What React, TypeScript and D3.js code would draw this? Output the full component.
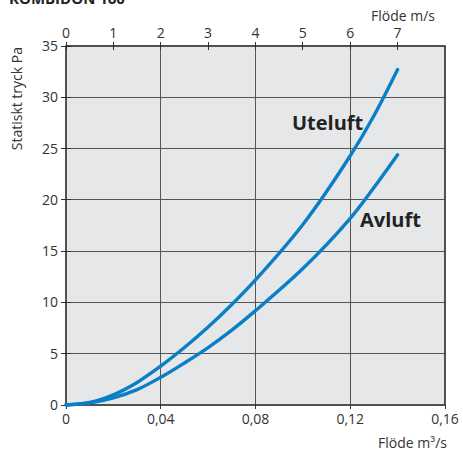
import React from 'react';
import * as d3 from 'd3';

// Flöde (m3/s) vs statiskt tryck (Pa)
const flow: number[] = [0, 0.01, 0.02, 0.03, 0.04, 0.05, 0.06, 0.07, 0.08, 0.1, 0.12, 0.13, 0.14];
const uteluft: number[] = [0, 0.25, 1.0, 2.2, 3.8, 5.6, 7.6, 9.8, 12.2, 17.6, 24.3, 28.2, 32.7];
const avluft: number[] = [0, 0.2, 0.7, 1.5, 2.7, 4.1, 5.6, 7.3, 9.2, 13.3, 18.2, 21.2, 24.4];

const flowTicks: number[] = [0, 0.04, 0.08, 0.12, 0.16];
const speedTicks: number[] = [0, 1, 2, 3, 4, 5, 6, 7];
const pressureTicks: number[] = [0, 5, 10, 15, 20, 25, 30, 35];

const W = 463;
const H = 454;
const margin = { left: 66, top: 46, right: 18, bottom: 49 };
const font = '"Open Sans", "DejaVu Sans", sans-serif';
const blue = '#0a7fc8';
const ink = '#333';

const App = () => {
  const x = d3.scaleLinear().domain([0, 0.16]).range([margin.left, W - margin.right]);
  const xs = d3.scaleLinear().domain([0, 8]).range([margin.left, W - margin.right]);
  const y = d3.scaleLinear().domain([0, 35]).range([H - margin.bottom, margin.top]);

  const line = d3
    .line<number>()
    .x((_, i) => x(flow[i]))
    .y((d) => y(d))
    .curve(d3.curveCatmullRom.alpha(0.5));

  const [x0, x1] = x.range();
  const [y0, y1] = y.range();
  const fmt = (v: number) => (v === 0 ? '0' : String(v).replace('.', ','));

  return (
    <svg
      width={W}
      height={H}
      style={{ position: 'absolute', left: 0, top: 0, background: '#fff' }}
      fontFamily={font}
    >
      <text x={9} y={4} fontSize={15} fontWeight="bold" fill="#222">
        KOMBIDON 160
      </text>
      <rect x={x0} y={y1} width={x1 - x0} height={y0 - y1} fill="#e6e7e9" />
      {/* grid */}
      <g shapeRendering="crispEdges">
        {pressureTicks.slice(1, -1).map((p) => (
          <line key={'h' + p} x1={x0} x2={x1} y1={y(p)} y2={y(p)} stroke="#555" />
        ))}
        {flowTicks.slice(1, -1).map((f) => (
          <line key={'v' + f} x1={x(f)} x2={x(f)} y1={y1} y2={y0} stroke="#555" />
        ))}
        {/* ticks */}
        {pressureTicks.map((p) => (
          <line key={'yt' + p} x1={x0 - 5} x2={x0 + 5} y1={y(p)} y2={y(p)} stroke={ink} />
        ))}
        {speedTicks.map((s) => (
          <line key={'st' + s} x1={xs(s)} x2={xs(s)} y1={y1 - 4} y2={y1 + 4} stroke={ink} />
        ))}
        {flowTicks.map((f) => (
          <line key={'ft' + f} x1={x(f)} x2={x(f)} y1={y0} y2={y0 + 4} stroke={ink} />
        ))}
      </g>
      <rect
        x={x0}
        y={y1}
        width={x1 - x0}
        height={y0 - y1}
        fill="none"
        stroke="#2a2a2a"
        strokeWidth={1.6}
      />
      {/* curves */}
      <path d={line(uteluft) || ''} fill="none" stroke={blue} strokeWidth={3.4} strokeLinecap="round" />
      <path d={line(avluft) || ''} fill="none" stroke={blue} strokeWidth={3.4} strokeLinecap="round" />
      <text x={292} y={130} fontSize={20} fontWeight="bold" fill="#222">
        Uteluft
      </text>
      <text x={360} y={227} fontSize={20} fontWeight="bold" fill="#222">
        Avluft
      </text>
      {/* labels */}
      <g fontSize={14} fill={ink}>
        {pressureTicks.map((p) => (
          <text key={'yl' + p} x={x0 - 8} y={y(p) + 5} textAnchor="end">
            {p}
          </text>
        ))}
        {speedTicks.map((s) => (
          <text key={'sl' + s} x={xs(s)} y={38} textAnchor="middle">
            {s}
          </text>
        ))}
        {flowTicks.map((f) => (
          <text key={'fl' + f} x={x(f)} y={424} textAnchor="middle">
            {fmt(f)}
          </text>
        ))}
        <text x={435} y={21} textAnchor="end">
          Flöde m/s
        </text>
        <text x={447} y={448} textAnchor="end">
          Flöde m³/s
        </text>
        <text transform="translate(22,47) rotate(-90)" textAnchor="end">
          Statiskt tryck Pa
        </text>
      </g>
    </svg>
  );
};

export default App;
